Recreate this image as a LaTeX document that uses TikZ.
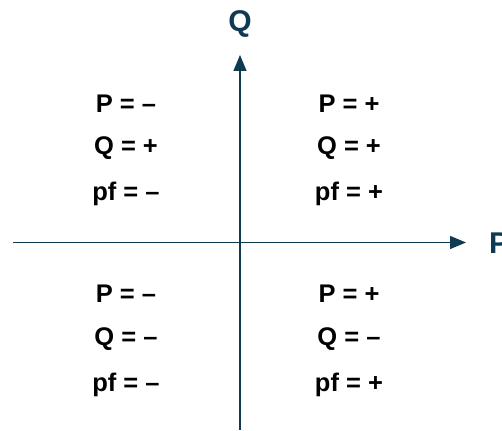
\documentclass[tikz,border=0pt]{standalone}
\usepackage{fontspec}
\setmainfont{Liberation Sans}
\usetikzlibrary{arrows.meta}
\definecolor{axisblue}{HTML}{0E3A52}

\begin{document}
\begin{tikzpicture}[
                x=1pt, y=-1pt,
                axis/.style={draw=axisblue, line width=1.3pt, -{Triangle[length=16pt,width=13pt]}},
                axislabel/.style={text=axisblue, font=\fontsize{30}{32}\selectfont\bfseries, inner sep=0pt},
                sign/.style={font=\fontsize{25.5}{28}\selectfont\bfseries, inner sep=0pt, anchor=base}
            ]

            \useasboundingbox (0,0) rectangle (502,430);

            % axes
            \coordinate (qbot) at (240,430);
            \coordinate (qtop) at (240,55);
            \coordinate (pleft) at (13,242.5);
            \coordinate (pright) at (466,242.5);
            \draw[axis] (qbot) -- (qtop);
            \draw[axis] (pleft) -- (pright);
            \node[axislabel, anchor=base] (qlabel) at (240,32) {Q};
            \node[axislabel, anchor=base west] (plabel) at (489,253) {P};

            % quadrant II
            \node[sign] (p2) at (126,113) {P = –};
            \node[sign] (q2) at (126,155) {Q = +};
            \node[sign] (pf2) at (126,200) {pf = –};

            % quadrant I
            \node[sign] (p1) at (349,113) {P = +};
            \node[sign] (q1) at (349,155) {Q = +};
            \node[sign] (pf1) at (349,200) {pf = +};

            % quadrant III
            \node[sign] (p3) at (126,302) {P = –};
            \node[sign] (q3) at (126,345) {Q = –};
            \node[sign] (pf3) at (126,391) {pf = –};

            % quadrant IV
            \node[sign] (p4) at (349,302) {P = +};
            \node[sign] (q4) at (349,345) {Q = –};
            \node[sign] (pf4) at (349,391) {pf = +};

        \end{tikzpicture}
\end{document}
